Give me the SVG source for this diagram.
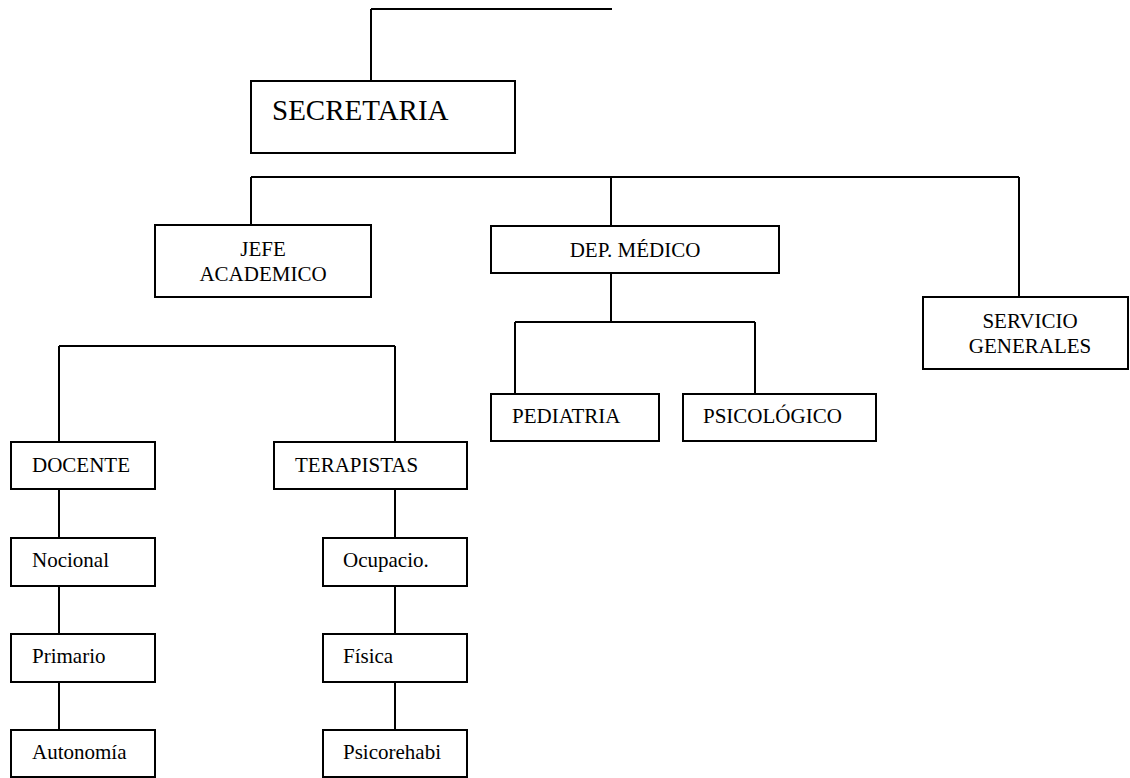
<svg xmlns="http://www.w3.org/2000/svg" width="1130" height="778" viewBox="0 0 1130 778">
<style>
.box{fill:#fff;stroke:#000;stroke-width:2}
.ln{fill:none;stroke:#000;stroke-width:2}
text{font-family:"Liberation Serif","Times New Roman",serif;font-size:21px;fill:#000}
.big{font-size:29px}
.c{text-anchor:middle}
</style>
<rect width="1130" height="778" fill="#fff"/>
<g id="connectors">
<path class="ln" d="M371,9 H612 M371,9 V81"/>
<path class="ln" d="M251,177 H1019 M251,177 V225 M611,177 V226 M1019,177 V297"/>
<path class="ln" d="M611,273 V322 M515,322 H755 M515,322 V394 M755,322 V394"/>
<path class="ln" d="M59,346 H395 M59,346 V442 M395,346 V442"/>
<path class="ln" d="M59,489 V538 M59,586 V634 M59,682 V730"/>
<path class="ln" d="M395,489 V538 M395,586 V634 M395,682 V730"/>
</g>
<g id="secretaria"><rect class="box" x="251" y="81" width="264" height="72"/><text class="big" x="272" y="120">SECRETARIA</text></g>
<g id="jefe"><rect class="box" x="155" y="225" width="216" height="72"/><text class="c" x="263" y="256">JEFE</text><text class="c" x="263" y="281">ACADEMICO</text></g>
<g id="depmedico"><rect class="box" x="491" y="226" width="288" height="47"/><text class="c" x="635" y="257">DEP. MÉDICO</text></g>
<g id="servicio"><rect class="box" x="923" y="297" width="205" height="72"/><text class="c" x="1030" y="328">SERVICIO</text><text class="c" x="1030" y="353">GENERALES</text></g>
<g id="pediatria"><rect class="box" x="491" y="394" width="168" height="47"/><text x="512" y="423">PEDIATRIA</text></g>
<g id="psicologico"><rect class="box" x="683" y="394" width="193" height="47"/><text x="703" y="423">PSICOLÓGICO</text></g>
<g id="docente"><rect class="box" x="11" y="442" width="144" height="47"/><text x="32" y="472">DOCENTE</text></g>
<g id="terapistas"><rect class="box" x="274" y="442" width="193" height="47"/><text x="295" y="472">TERAPISTAS</text></g>
<g id="nocional"><rect class="box" x="11" y="538" width="144" height="48"/><text x="32" y="567">Nocional</text></g>
<g id="primario"><rect class="box" x="11" y="634" width="144" height="48"/><text x="32" y="663">Primario</text></g>
<g id="autonomia"><rect class="box" x="11" y="730" width="144" height="47"/><text x="32" y="759">Autonomía</text></g>
<g id="ocupacio"><rect class="box" x="323" y="538" width="144" height="48"/><text x="343" y="567">Ocupacio.</text></g>
<g id="fisica"><rect class="box" x="323" y="634" width="144" height="48"/><text x="343" y="663">Física</text></g>
<g id="psicorehabi"><rect class="box" x="323" y="730" width="144" height="47"/><text x="343" y="759">Psicorehabi</text></g>
</svg>
